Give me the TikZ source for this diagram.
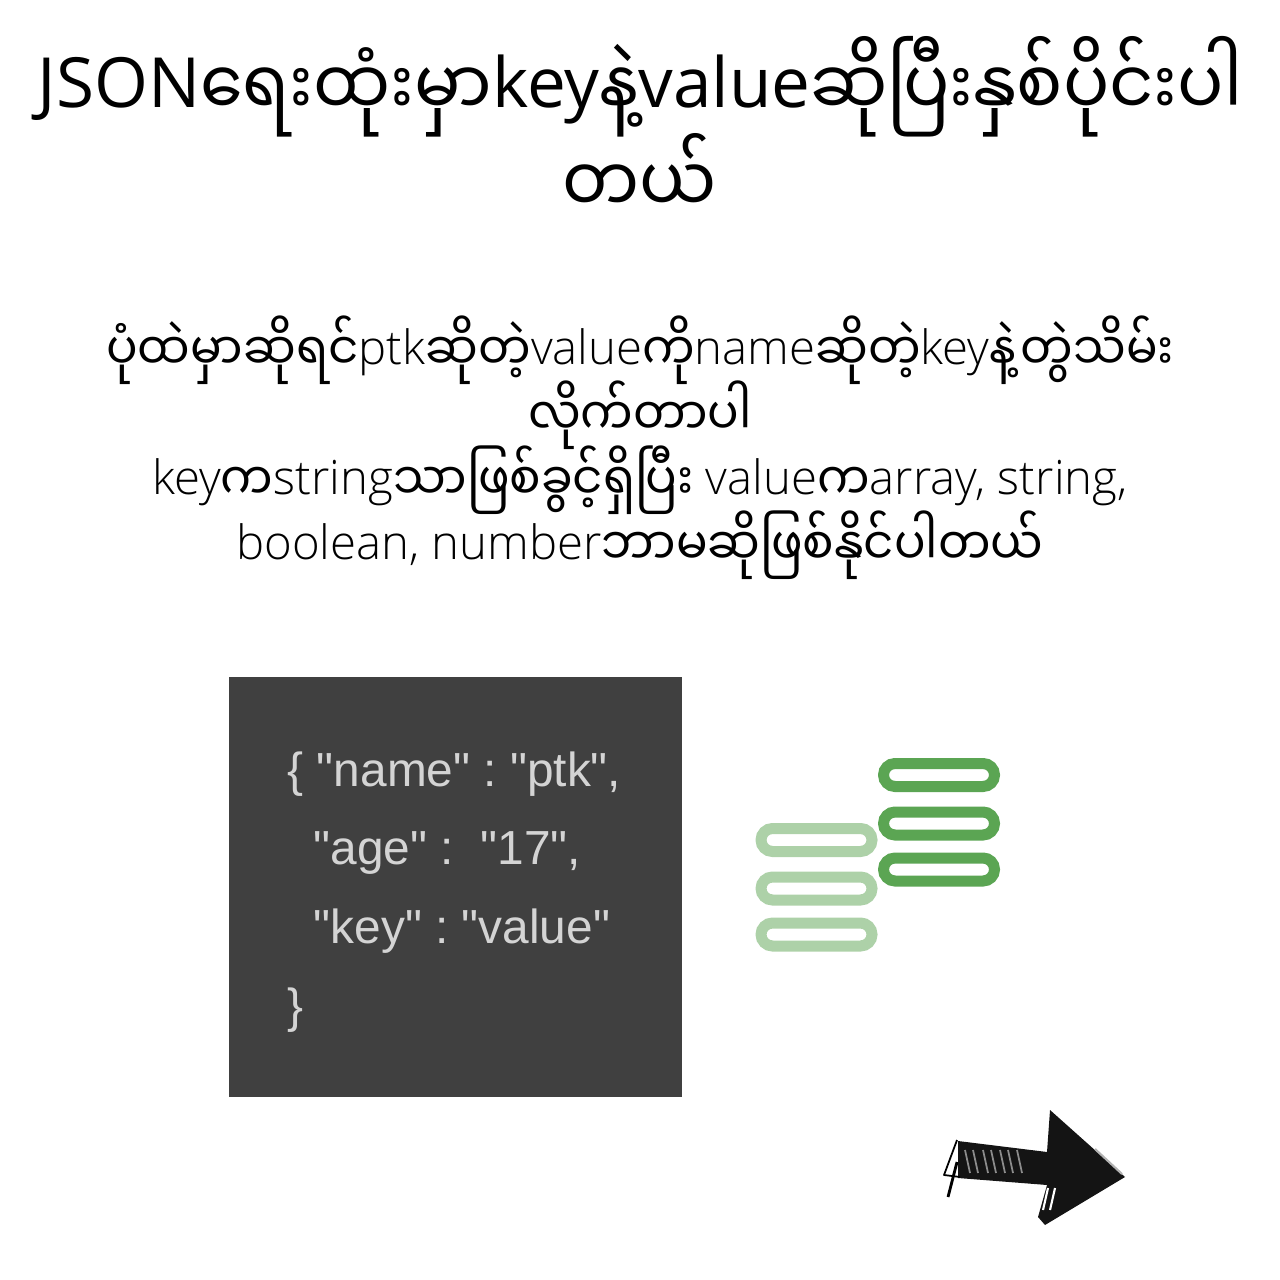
\documentclass[tikz,border=0pt]{standalone}
\usepackage{fontspec}
\setmainfont{Open Sans}
\newfontfamily\mmfont[Script=Myanmar,FakeStretch=0.9,Scale=1.1]{Noto Sans Myanmar UI}
\newfontfamily\lightfont{Open Sans Light}
\newfontfamily\codefont{Liberation Sans}
\newcommand{\mm}[1]{\raisebox{-0.12em}{\mmfont #1}}
\usetikzlibrary{positioning}
\definecolor{panelgray}{HTML}{404040}
\definecolor{codegray}{HTML}{D4D4D4}
\definecolor{ringdark}{HTML}{5BA553}
\definecolor{ringlight}{HTML}{ADD1A8}

\begin{document}
\begin{tikzpicture}[
  titleline/.style={anchor=base, inner sep=0pt, font=\fontsize{19.7}{24}\selectfont},
  bodyline/.style={anchor=base, inner sep=0pt, font=\fontsize{13.45}{16}\lightfont},
  codeline/.style={anchor=base west, inner sep=0pt, text=codegray,
    font=\fontsize{13.6}{16}\codefont\frenchspacing},
  ring/.style={draw, line width=1.1mm, rounded corners=1.15mm,
    minimum width=11.1mm, minimum height=2.3mm, inner sep=0pt},
  ringd/.style={ring, draw=ringdark},
  ringl/.style={ring, draw=ringlight}
]
  \useasboundingbox (0, 0) rectangle (12.8, -12.8);

  \node[titleline] (title1) at (6.4, -1.08)
    {JSON\mm{ရေးထုံးမှာ}key\mm{နဲ့}value\mm{ဆိုပြီးနှစ်ပိုင်းပါ}};
  \node[titleline] (title2) at (6.4, -2.05) {\mm{တယ်}};

  \node[bodyline] (body1) at (6.4, -3.65)
    {\mm{ပုံထဲမှာဆိုရင်}ptk\mm{ဆိုတဲ့}value\mm{ကို}name\mm{ဆိုတဲ့}key\mm{နဲ့တွဲသိမ်း}};
  \node[bodyline] (body2) at (6.4, -4.30) {\mm{လိုက်တာပါ}};
  \node[bodyline] (body3) at (6.4, -4.95)
    {key\mm{က}string\mm{သာဖြစ်ခွင့်ရှိပြီး} value\mm{က}array, string,};
  \node[bodyline] (body4) at (6.4, -5.60)
    {boolean, number\mm{ဘာမဆိုဖြစ်နိုင်ပါတယ်}};

  \node[fill=panelgray, minimum width=4.53cm, minimum height=4.2cm, inner sep=0pt]
    (panel) at (4.555, -8.87) {};
  \node[codeline] (code1) at (2.87, -7.865) {\{ "name" : "ptk",};
  \node[codeline] (code2) at (3.13, -8.645) {"age" :\ \ "17",};
  \node[codeline] (code3) at (3.13, -9.43) {"key" : "value"};
  \node[codeline] (code4) at (2.87, -10.22) {\}};

  \node[ringd] (d1) at (9.39, -7.75) {};
  \node[ringd] (d2) at (9.39, -8.235) {};
  \node[ringd] (d3) at (9.39, -8.695) {};
  \node[ringl] (l1) at (8.165, -8.40) {};
  \node[ringl] (l2) at (8.165, -8.885) {};
  \node[ringl] (l3) at (8.165, -9.345) {};

  % sketched arrow
  \fill[black!92] (9.58, -11.41) -- (10.47, -11.52) -- (10.5, -11.1)
    -- (11.25, -11.77) -- (10.45, -12.25) -- (10.38, -12.17) -- (10.47, -11.85)
    -- (9.58, -11.78) -- cycle;
  \draw[black, line width=0.5pt, line join=round] (9.57, -11.4) -- (9.44, -11.75)
    -- (9.6, -11.77);
  \draw[black, line width=0.8pt] (9.57, -11.62) -- (9.48, -11.97);
  \foreach \x in {9.70, 9.78, 9.88, 9.96, 10.05, 10.13, 10.22}
    \draw[black!45, line width=0.5pt] (\x, -11.73) -- (\x-0.05, -11.5);
  \foreach \x in {10.48, 10.55}
    \draw[white, line width=0.6pt] (\x, -11.88) -- (\x-0.05, -12.1);
  \draw[black!30, line width=0.6pt] (10.95, -11.49) -- (11.22, -11.74);
\end{tikzpicture}
\end{document}
